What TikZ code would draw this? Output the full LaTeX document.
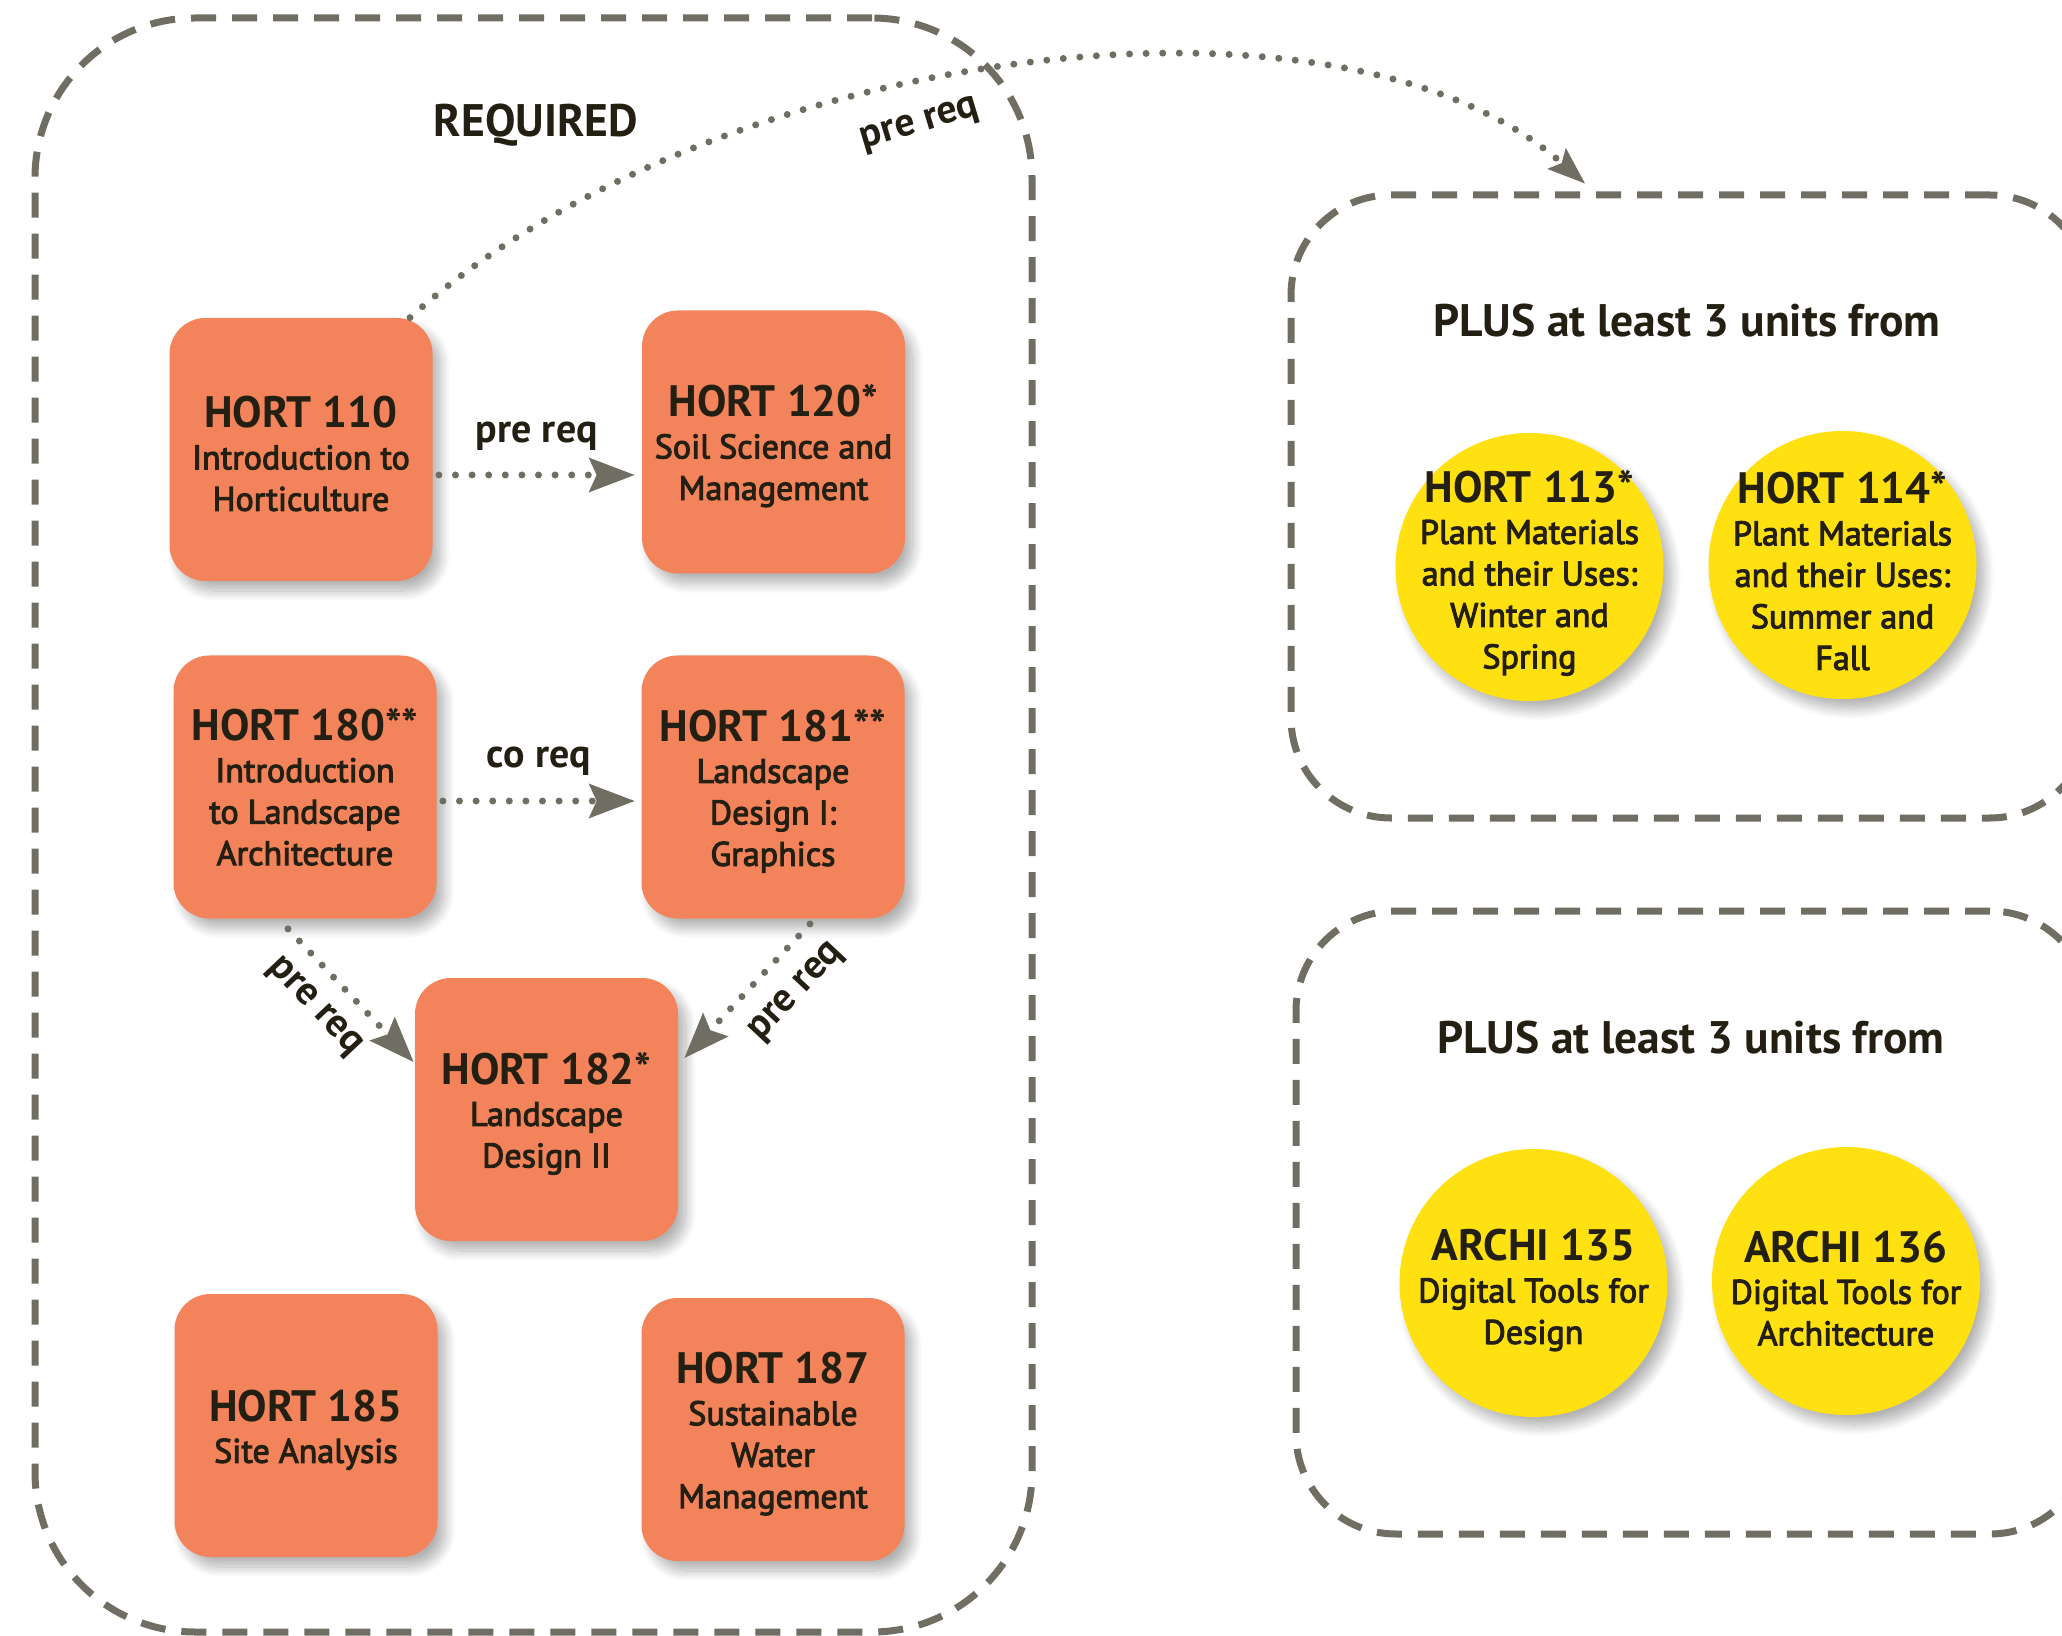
\documentclass[tikz,border=0pt]{standalone}
\usepackage{fontspec}
\setmainfont{PT Sans}
\newfontfamily\semib[FakeBold=3]{PT Sans}
\usetikzlibrary{arrows.meta, shadows.blur, calc}

\definecolor{orng}{RGB}{242,131,90}
\definecolor{yell}{RGB}{255,224,16}
\definecolor{lgray}{RGB}{112,110,98}
\definecolor{txt}{RGB}{35,31,18}

\newcommand{\mysubf}{\semib\fontsize{17}{20.75}\selectfont}
\newcommand{\mytitle}[1]{{\normalfont\bfseries\fontsize{22}{20.75}\selectfont\rule{0pt}{20pt}#1}}
\newcommand{\mytitlenr}[1]{{\normalfont\bfseries\fontsize{22}{20.75}\selectfont #1}}
\newcommand{\mylbl}{\normalfont\bfseries\fontsize{20}{24}\selectfont}
\newcommand{\myhead}{\normalfont\bfseries\fontsize{22.8}{26}\selectfont}

\begin{document}
\begin{tikzpicture}[x=0.5pt, y=-0.5pt,
  dashbox/.style={draw=lgray, line width=3.5pt, dash pattern=on 12.5pt off 8pt, inner sep=0pt},
  softshadow/.style={blur shadow={shadow xshift=4pt, shadow yshift=-5pt, shadow blur radius=5pt, shadow blur steps=12, shadow opacity=30}},
  obox/.style={rectangle, rounded corners=18pt, fill=orng, minimum width=131.5pt, minimum height=131.5pt, inner sep=0pt, align=center, text=txt, font=\mysubf, softshadow},
  ycirc/.style={circle, fill=yell, minimum size=134pt, inner sep=0pt, softshadow},
  ctext/.style={inner sep=0pt, align=center, text=txt, font=\mysubf},
  dotline/.style={draw=lgray, line width=3.5pt, line cap=round, dash pattern=on 0pt off 8.3pt},
  bigtip/.style={-{Stealth[length=23pt,width=17.5pt,inset=4pt,line width=0pt]}},
  smalltip/.style={-{Stealth[length=19pt,width=14pt,inset=3.5pt,line width=0pt]}},
  lbl/.style={text=txt, font=\mylbl},
  head/.style={text=txt, font=\myhead}
]
\useasboundingbox (0,0) rectangle (2062,1636);
\clip (0,0) rectangle (2062,1636);

% containers
\node[dashbox, rounded corners=80pt, minimum width=498.5pt, minimum height=807pt] (req) at (533.5,825) {};
\node[dashbox, rounded corners=50pt, minimum width=399.5pt, minimum height=311.5pt] (opt1) at (1690.5,506.5) {};
\node[dashbox, rounded corners=50pt, minimum width=397pt, minimum height=311.5pt] (opt2) at (1693,1222.5) {};

% headings
\node[head, anchor=base] (reqt) at (536,137) {REQUIRED};
\node[head, anchor=base] (opt1t) at (1687,337) {PLUS at least 3 units from};
\node[head, anchor=base] (opt2t) at (1691,1053) {PLUS at least 3 units from};

% required courses
\node[obox] (h110) at (301,449.5) {\mytitle{HORT 110}\\Introduction to\\Horticulture};
\node[obox] (h120) at (773.5,442) {\mytitle{HORT 120*}\\Soil Science and\\Management};
\node[obox] (h180) at (305,787) {\mytitlenr{HORT 180**}\\Introduction\\to Landscape\\Architecture};
\node[obox] (h181) at (773,787) {\mytitle{HORT 181**}\\Landscape\\Design I:\\Graphics};
\node[obox] (h182) at (546.5,1109.5) {\mytitle{HORT 182*}\\Landscape\\Design II};
\node[obox] (h185) at (306,1425.5) {\mytitle{HORT 185}\\Site Analysis};
\node[obox] (h187) at (773,1429.5) {\mytitle{HORT 187}\\Sustainable\\Water\\Management};

% elective courses
\node[ycirc] (h113) at (1529.5,567) {};
\node[ctext] (h113t) at ([yshift=-1pt]h113.center) {\mytitle{HORT 113*}\\Plant Materials\\and their Uses:\\Winter and\\Spring};
\node[ycirc] (h114) at (1842.5,565) {};
\node[ctext] (h114t) at ([yshift=-1pt]h114.center) {\mytitle{HORT 114*}\\Plant Materials\\and their Uses:\\Summer and\\Fall};
\node[ycirc] (a135) at (1533.5,1283) {};
\node[ctext] (a135t) at ([yshift=-1.5pt]a135.center) {\mytitle{ARCHI 135}\\Digital Tools for\\Design};
\node[ycirc] (a136) at (1846,1281) {};
\node[ctext] (a136t) at ([yshift=-1.5pt]a136.center) {\mytitle{ARCHI 136}\\Digital Tools for\\Architecture};

% connectors
\draw[dotline, bigtip] ([xshift=3pt,yshift=-12.75pt]h110.east) -- node[lbl, pos=0.5, anchor=base, yshift=16pt] {pre req} ([xshift=-3.5pt,yshift=-16.5pt]h120.west);
\draw[dotline, bigtip] ([xshift=3pt,yshift=-7pt]h180.east) -- node[lbl, pos=0.5, anchor=base, yshift=16.5pt] {co req} ([xshift=-3.25pt,yshift=-7pt]h181.west);
\draw[dotline, bigtip] ([xshift=-8.5pt,yshift=-5pt]h180.south) -- node[lbl, sloped, pos=0.41, anchor=north, inner sep=8.6pt] {pre req} ([xshift=-0.5pt,yshift=23.75pt]h182.west);
\draw[dotline, bigtip] ([xshift=18.5pt,yshift=-2.5pt]h181.south) -- node[lbl, sloped, pos=0.32, anchor=north, inner sep=10pt] {pre req} ([xshift=3pt,yshift=25.75pt]h182.east);
\draw[dotline, smalltip] ([xshift=54.5pt]h110.north) .. controls +(300,-270) and +(-250,-220) .. node[lbl, sloped, pos=0.42, anchor=north, inner sep=12.5pt, rotate=5] {pre req} ([xshift=-52.75pt,yshift=4pt]opt1.north);
\end{tikzpicture}
\end{document}
